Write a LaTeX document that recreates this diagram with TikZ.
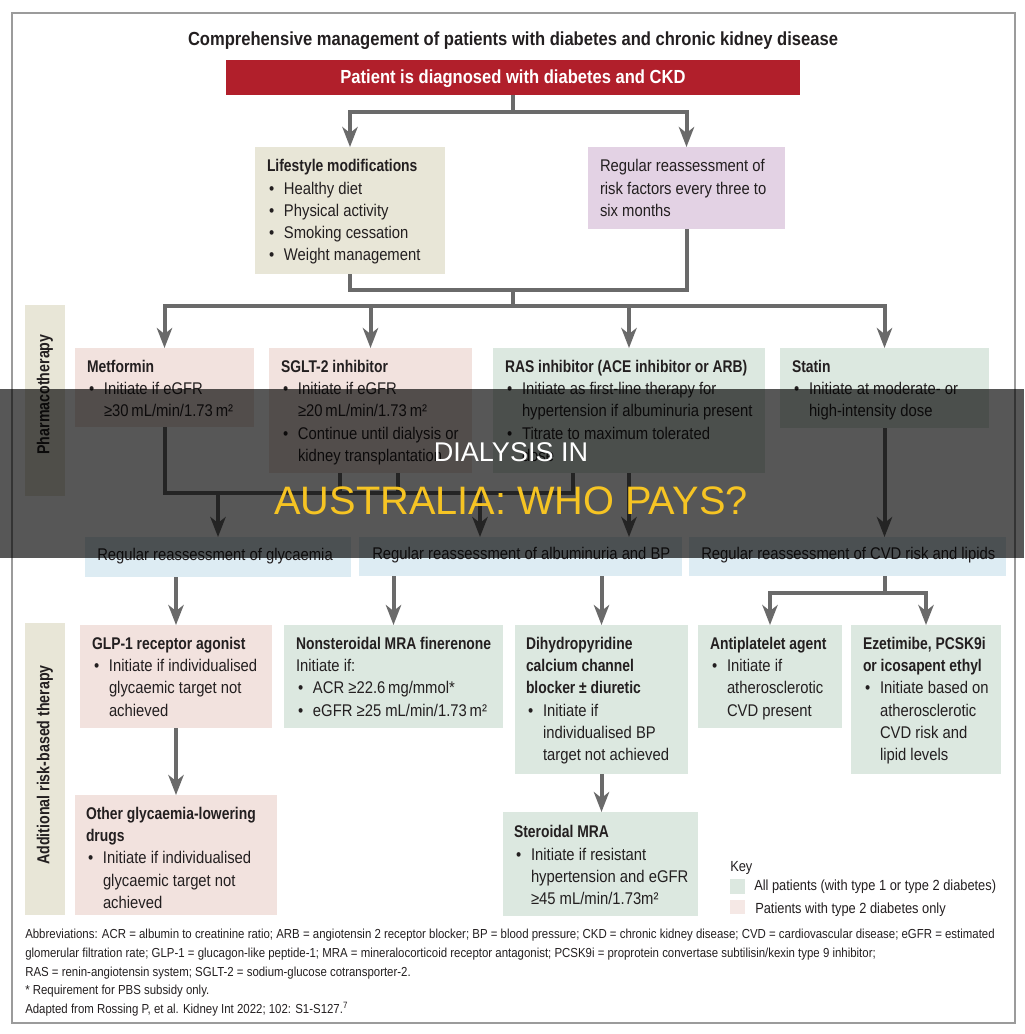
\documentclass[tikz,border=0pt]{standalone}
\usepackage{fontspec}
\setmainfont{Liberation Sans}[FakeStretch=0.875]
\newfontfamily\hbfam{Liberation Sans}[FakeStretch=0.82]
\newfontfamily\bandfont{Liberation Sans}
\usetikzlibrary{arrows.meta,fit,calc}
\definecolor{txt}{HTML}{231F20}
\definecolor{arrc}{HTML}{6A6A6A}
\definecolor{framec}{HTML}{9B9B9B}
\definecolor{redc}{HTML}{B11F2B}
\definecolor{beigec}{HTML}{E8E6D7}
\definecolor{purpc}{HTML}{E3D2E4}
\definecolor{pinkc}{HTML}{F2E2DE}
\definecolor{greenc}{HTML}{DCE8E0}
\definecolor{bluec}{HTML}{DDECF3}
\definecolor{bandy}{HTML}{F6C423}
\newcommand\B{\hspace*{1.5pt}\makebox[11.25pt][l]{•}}
\newcommand\I{\hspace*{12.75pt}}
\newcommand\fs{\rule{0pt}{10pt}}
\newcommand\hd[1]{{\hbfam\bfseries #1}}
\tikzset{
 bx/.style={inner sep=0pt, outer sep=0pt, draw=none, fill=#1},
 tx/.style={anchor=north west, inner sep=0pt, outer sep=0pt, align=left, text=txt, font=\fontsize{12.7}{16.7}\selectfont},
 ln/.style={draw=arrc, line width=3pt},
 ar/.style={draw=arrc, line width=3pt, -{Stealth[length=15pt, width=11.5pt, inset=4.5pt]}},
 lbl/.style={rotate=90, inner sep=0pt, text=txt, font=\hbfam\bfseries\fontsize{13}{15}\selectfont},
 rtx/.style={anchor=west, inner sep=0pt, text=txt, font=\fontsize{12.7}{15}\selectfont},
 foot/.style={anchor=west, inner sep=0pt, text=txt, font=\fontsize{9.8}{11}\selectfont},
 keyt/.style={anchor=west, inner sep=0pt, text=txt, font=\fontsize{11}{13}\selectfont},
}
\begin{document}
\begin{tikzpicture}[x=0.75pt, y=-0.75pt]
\useasboundingbox (0,0) rectangle (1024,1034);
\fill[white] (0,0) rectangle (1024,1034);
\node[inner sep=0pt, outer sep=0pt, draw=framec, line width=1.1pt, fit={(12,13) (1015,1023)}] (frame) {};

% title and banner
\node[inner sep=0pt, text=txt, font=\bfseries\fontsize{14.2}{17}\selectfont] (title) at (513,41) {Comprehensive management of patients with diabetes and chronic kidney disease};
\node[bx=redc, fit={(226,60) (800,95)}] (banner) {};
\node[inner sep=0pt, text=white, font=\bfseries\fontsize{14.2}{17}\selectfont] (banner-t) at ($(banner.center)+(0,1)$) {Patient is diagnosed with diabetes and CKD};

% boxes
\node[bx=beigec, fit={(255,147) (445,274)}] (life) {};
\node[bx=purpc, fit={(588,147) (785,229)}] (reas) {};
\node[bx=beigec, fit={(25,305) (65,496)}] (pharm) {};
\node[bx=pinkc, fit={(75,348) (254,427)}] (met) {};
\node[bx=pinkc, fit={(269,348) (472,473)}] (sglt) {};
\node[bx=greenc, fit={(493,348) (765,473)}] (ras) {};
\node[bx=greenc, fit={(780,348) (989,428)}] (stat) {};
\node[bx=bluec, fit={(85,537) (351,577)}] (glyc) {};
\node[bx=bluec, fit={(359,537) (682,576)}] (alb) {};
\node[bx=bluec, fit={(689,537) (1006,576)}] (cvd) {};
\node[bx=beigec, fit={(25,623) (65,915)}] (addl) {};
\node[bx=pinkc, fit={(80,625) (272,728)}] (glp) {};
\node[bx=greenc, fit={(284,625) (503,728)}] (nsm) {};
\node[bx=greenc, fit={(515,625) (688,774)}] (dhp) {};
\node[bx=greenc, fit={(698,625) (842,728)}] (anti) {};
\node[bx=greenc, fit={(851,625) (1001,774)}] (eze) {};
\node[bx=pinkc, fit={(75,795) (277,915)}] (oth) {};
\node[bx=greenc, fit={(503,812) (698,916)}] (ster) {};

% texts
\node[tx] (life-t) at ($(life.north west)+(12,11.5)$) {\fs\hd{Lifestyle modifications}\\\B Healthy diet\\\B Physical activity\\\B Smoking cessation\\\B Weight management};
\node[tx] (reas-t) at ($(reas.north west)+(12,11.5)$) {\fs Regular reassessment of\\risk factors every three to\\six months};
\node[lbl] (pharm-t) at ($(pharm.center)+(0,-6)$) {Pharmacotherapy};
\node[tx] (met-t) at ($(met.north west)+(12,11)$) {\fs\hd{Metformin}\\\B Initiate if eGFR\\\I ≥30\,mL/min/1.73\,m²};
\node[tx] (sglt-t) at ($(sglt.north west)+(12,11)$) {\fs\hd{SGLT-2 inhibitor}\\\B Initiate if eGFR\\\I ≥20\,mL/min/1.73\,m²\\\B Continue until dialysis or\\\I kidney transplantation};
\node[tx] (ras-t) at ($(ras.north west)+(12,11)$) {\fs\hd{RAS inhibitor (ACE inhibitor or ARB)}\\\B Initiate as first-line therapy for\\\I hypertension if albuminuria present\\\B Titrate to maximum tolerated\\\I dose};
\node[tx] (stat-t) at ($(stat.north west)+(12,11)$) {\fs\hd{Statin}\\\B Initiate at moderate- or\\\I high-intensity dose};
\node[rtx] (glyc-t) at ($(glyc.west)+(12,-1)$) {Regular reassessment of glycaemia};
\node[rtx] (alb-t) at ($(alb.west)+(13,-1)$) {Regular reassessment of albuminuria and BP};
\node[rtx] (cvd-t) at ($(cvd.west)+(12,-1)$) {Regular reassessment of CVD risk and lipids};
\node[lbl] (addl-t) at ($(addl.center)+(0,-4)$) {Additional risk-based therapy};
\node[tx] (glp-t) at ($(glp.north west)+(12,11)$) {\fs\hd{GLP-1 receptor agonist}\\\B Initiate if individualised\\\I glycaemic target not\\\I achieved};
\node[tx] (nsm-t) at ($(nsm.north west)+(12,11)$) {\fs\hd{Nonsteroidal MRA finerenone}\\Initiate if:\\\B ACR ≥22.6\,mg/mmol*\\\B eGFR ≥25 mL/min/1.73\,m²};
\node[tx] (dhp-t) at ($(dhp.north west)+(11,11)$) {\fs\hd{Dihydropyridine}\\\hd{calcium channel}\\\hd{blocker ± diuretic}\\\B Initiate if\\\I individualised BP\\\I target not achieved};
\node[tx] (anti-t) at ($(anti.north west)+(12,11)$) {\fs\hd{Antiplatelet agent}\\\B Initiate if\\\I atherosclerotic\\\I CVD present};
\node[tx] (eze-t) at ($(eze.north west)+(12,11)$) {\fs\hd{Ezetimibe, PCSK9i}\\\hd{or icosapent ethyl}\\\B Initiate based on\\\I atherosclerotic\\\I CVD risk and\\\I lipid levels};
\node[tx] (oth-t) at ($(oth.north west)+(11,11)$) {\fs\hd{Other glycaemia-lowering}\\\hd{drugs}\\\B Initiate if individualised\\\I glycaemic target not\\\I achieved};
\node[tx] (ster-t) at ($(ster.north west)+(11,12.5)$) {\fs\hd{Steroidal MRA}\\\B Initiate if resistant\\\I hypertension and eGFR\\\I ≥45 mL/min/1.73m²};

% connectors, top
\coordinate (j0) at (513,112);
\draw[ln] (banner.south) -- (j0);
\draw[ar] (j0) -| (life.north);
\draw[ar] (j0) -| (reas.north);
\coordinate (j1) at (513,290);
\coordinate (j2) at (513,306);
\draw[ln] (life.south) |- (reas.south |- j1) -- (reas.south);
\draw[ln] (j1) -- (j2);
\draw[ar] (j2) -| (met.north);
\draw[ar] (j2) -| (stat.north);
\draw[ar] (sglt.north |- j2) -- (sglt.north);
\draw[ar] (ras.north |- j2) -- (ras.north);

% connectors, middle
\coordinate (j3) at (164,493);
\coordinate (s1) at ($(sglt.south west)+(71,0)$);
\coordinate (s2) at ($(sglt.south west)+(129,0)$);
\coordinate (r1) at ($(ras.south west)+(80,0)$);
\coordinate (a1) at ($(alb.north west)+(121,0)$);
\draw[ln] (met.south) |- (r1 |- j3) -- (r1);
\draw[ln] (s1) -- (s1 |- j3);
\draw[ln] (s2) -- (s2 |- j3);
\draw[ar] (glyc.north |- j3) -- (glyc.north);
\draw[ar] (a1 |- j3) -- (a1);
\draw[ar] (ras.south) -- (ras.south |- alb.north);
\draw[ar] (stat.south) -- (stat.south |- cvd.north);

% connectors, lower
\draw[ar] (glyc.south -| glp.north) -- (glp.north);
\draw[ar] (alb.south -| nsm.north) -- (nsm.north);
\draw[ar] (alb.south -| dhp.north) -- (dhp.north);
\coordinate (j4) at (884.5,593);
\draw[ln] (cvd.south -| j4) -- (j4);
\draw[ar] (j4) -| (anti.north);
\draw[ar] (j4) -| (eze.north);
\draw[ar] (glp.south) -- (oth.north);
\draw[ar] (dhp.south) -- (dhp.south |- ster.north);

% key
\node[keyt] (key) at (730,868) {Key};
\node[bx=greenc, fit={(730,879) (745,894)}] (kg) {};
\node[bx=pinkc!80!white, fit={(730,900) (745,914)}] (kp) {};
\node[keyt] (kg-t) at (754,887) {All patients (with type 1 or type 2 diabetes)};
\node[keyt] (kp-t) at (755,910) {Patients with type 2 diabetes only};

% footer
\node[foot] (f1) at (25,935) {Abbreviations: ACR = albumin to creatinine ratio; ARB = angiotensin 2 receptor blocker; BP = blood pressure; CKD = chronic kidney disease; CVD = cardiovascular disease; eGFR = estimated};
\node[foot] (f2) at (25,954) {glomerular filtration rate; GLP-1 = glucagon-like peptide-1; MRA = mineralocorticoid receptor antagonist; PCSK9i = proprotein convertase subtilisin/kexin type 9 inhibitor;};
\node[foot] (f3) at (25,973) {RAS = renin-angiotensin system; SGLT-2 = sodium-glucose cotransporter-2.};
\node[foot] (f4) at (25,991) {* Requirement for PBS subsidy only.};
\node[foot] (f5) at (25,1009) {Adapted from Rossing P, et al. Kidney Int 2022; 102: S1-S127.\textsuperscript{7}};

% overlay band
\fill[black, opacity=0.66] (0,389) rectangle (1024,558);
\node[inner sep=0pt, text=white, font=\bandfont\fontsize{20.3}{24}\selectfont] (band1) at (511,452) {DIALYSIS IN};
\node[inner sep=0pt, text=bandy, font=\bandfont\fontsize{29.8}{34}\selectfont] (band2) at (511,501) {AUSTRALIA: WHO PAYS?};
\end{tikzpicture}
\end{document}
